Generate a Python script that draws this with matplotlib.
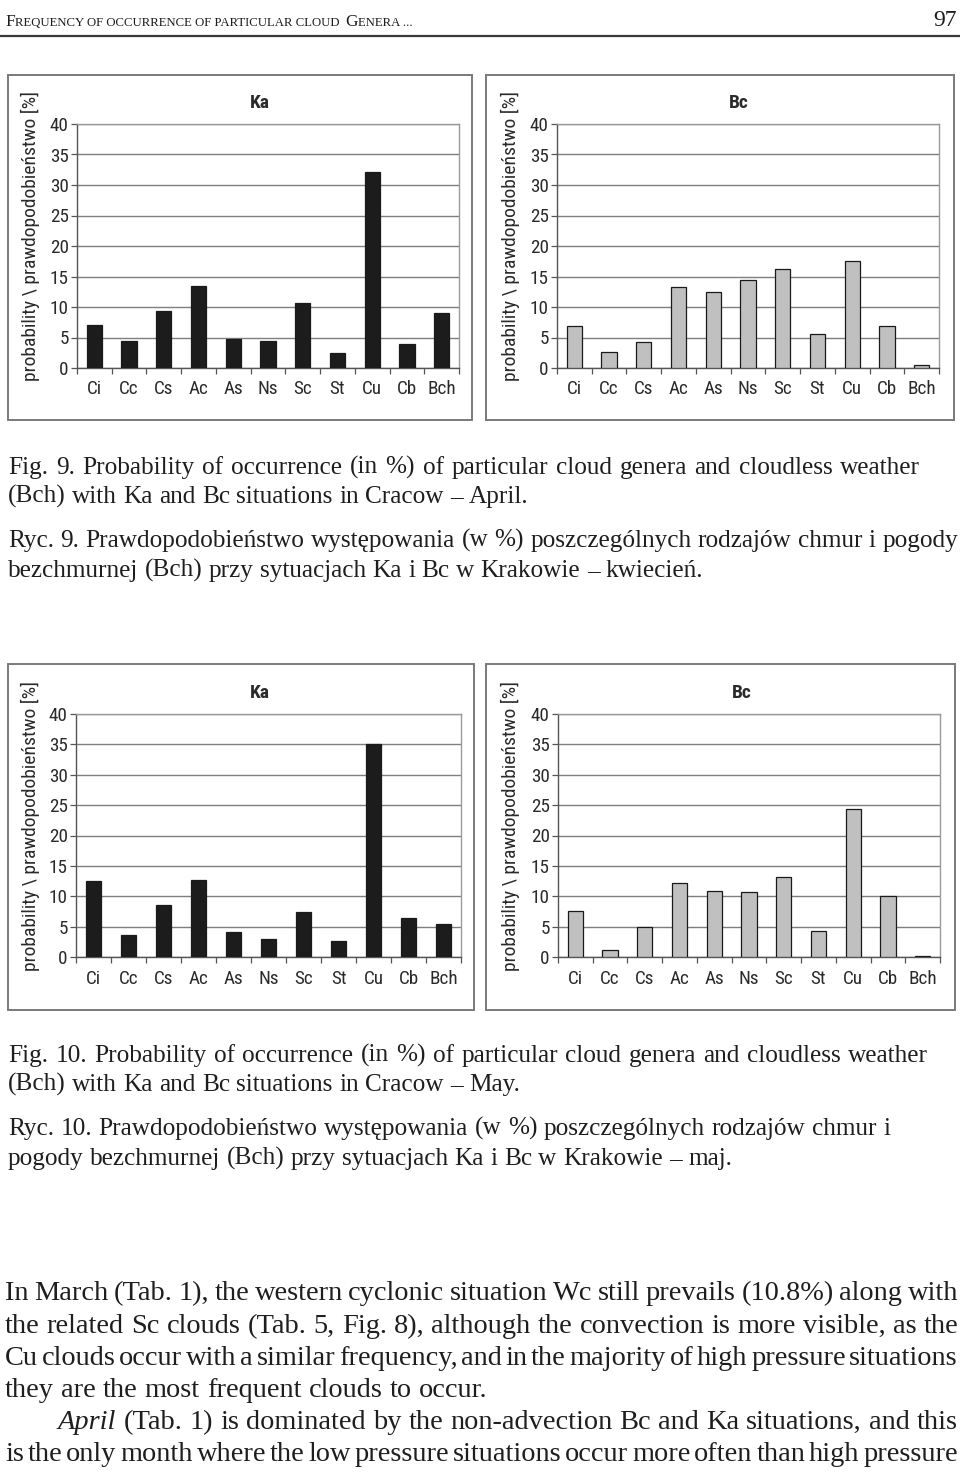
import matplotlib
matplotlib.use('Agg')
import matplotlib.pyplot as plt
from matplotlib import font_manager
from matplotlib.patches import Rectangle
from matplotlib.lines import Line2D
from matplotlib.text import Annotation
import numpy as np

# ---------------- data ----------------
cats = ['Ci', 'Cc', 'Cs', 'Ac', 'As', 'Ns', 'Sc', 'St', 'Cu', 'Cb', 'Bch']
april_ka = [7.0, 4.4, 9.3, 13.4, 4.7, 4.4, 10.6, 2.5, 32.2, 3.9, 9.0]
april_bc = [6.9, 2.6, 4.3, 13.2, 12.4, 14.5, 16.2, 5.6, 17.5, 6.9, 0.5]
may_ka = [12.5, 3.7, 8.5, 12.7, 4.1, 2.9, 7.4, 2.6, 35.1, 6.4, 5.4]
may_bc = [7.6, 1.2, 5.0, 12.2, 10.9, 10.7, 13.2, 4.3, 24.4, 10.0, 0.2]
yticks = [0, 5, 10, 15, 20, 25, 30, 35, 40]
ylabel = 'probability \\ prawdopodobieństwo [%]'

header_pieces = [('F', 'big'), ('REQUENCY OF OCCURRENCE OF PARTICULAR CLOUD', 'small'),
                 ('G', 'big'), ('ENERA ...', 'small')]
page_no = '97'
cap9 = ['Fig. 9. Probability of occurrence (in %) of particular cloud genera and cloudless weather',
        '(Bch) with Ka and Bc situations in Cracow – April.']
ryc9 = ['Ryc. 9. Prawdopodobieństwo występowania (w %) poszczególnych rodzajów chmur i pogody',
        'bezchmurnej (Bch) przy sytuacjach Ka i Bc w Krakowie – kwiecień.']
cap10 = ['Fig. 10. Probability of occurrence (in %) of particular cloud genera and cloudless weather',
         '(Bch) with Ka and Bc situations in Cracow – May.']
ryc10 = ['Ryc. 10. Prawdopodobieństwo występowania (w %) poszczególnych rodzajów chmur i',
         'pogody bezchmurnej (Bch) przy sytuacjach Ka i Bc w Krakowie – maj.']
body = [
    ('In March (Tab. 1), the western cyclonic situation Wc still prevails (10.8%) along with', 958, 0),
    ('the related Sc clouds (Tab. 5, Fig. 8), although the convection is more visible, as the', 958, 0),
    ('Cu clouds occur with a similar frequency, and in the majority of high pressure situations', 958, 0),
    ('they are the most frequent clouds to occur.', None, 0),
    ('*April* (Tab. 1) is dominated by the non-advection Bc and Ka situations, and this', 958, 1),
    ('is the only month where the low pressure situations occur more often than high pressure', 958, 0),
]

# ---------------- setup ----------------
W, H = 960, 1473
fig = plt.figure(figsize=(W / 100, H / 100), dpi=100)
fig.patch.set_facecolor('white')
renderer = fig.canvas.get_renderer()


def stretch_num(s):
    if isinstance(s, (int, float)):
        return s
    return font_manager.stretch_dict.get(s, 500)


ttf = font_manager.fontManager.ttflist
names = {f.name for f in ttf}
SANS, STRETCH, NARROW = 'Liberation Sans', 'normal', False
for cand in ['Liberation Sans Narrow', 'Arial Narrow', 'Roboto Condensed',
             'Open Sans Condensed', 'Noto Sans Condensed', 'DejaVu Sans Condensed']:
    if cand in names:
        SANS, NARROW = cand, True
        break
if not NARROW:
    for fam in ['Liberation Sans', 'Noto Sans', 'Open Sans', 'Roboto', 'DejaVu Sans']:
        hits = [f for f in ttf if f.name == fam and stretch_num(f.stretch) <= 400
                and f.style == 'normal']
        if hits:
            SANS, STRETCH, NARROW = fam, 'condensed', True
            break
SERIF = 'Liberation Serif'
plt.rcParams['font.family'] = [SANS, 'DejaVu Sans']
plt.rcParams['font.stretch'] = STRETCH

TXT = '#1e1e1e'
CH = '#2a2a2a'


def fx(x):
    return x / W


def fy(y):
    return 1 - y / H


def width_of(s, size, style='normal', family=SERIF):
    t = fig.text(0, 0, s, fontsize=size, family=family, style=style)
    w = t.get_window_extent(renderer).width
    t.remove()
    return w


# ---------------- charts ----------------
tick_fs = 13.8 if NARROW else 13
lab_fs = 14 if NARROW else 12.3


def chart(frame, axbox, title, title_xy, ylab_xy, values, color):
    l, t, r, b = frame
    fig.add_artist(Rectangle((fx(l), fy(b)), (r - l) / W, (b - t) / H,
                             transform=fig.transFigure, fill=False,
                             edgecolor='#7a7a7a', lw=1.4))
    al, at, ar, ab = axbox
    ax = fig.add_axes([fx(al), fy(ab), (ar - al) / W, (ab - at) / H])
    x = np.arange(len(cats))
    ax.bar(x, values, width=0.44, color=color, edgecolor='#1a1a1a', lw=0.9, zorder=3)
    ax.set_xlim(-0.5, len(cats) - 0.5)
    ax.set_ylim(0, 40)
    ax.set_yticks(yticks)
    ax.set_yticklabels([str(v) for v in yticks])
    ax.set_xticks(x)
    ax.set_xticklabels(cats)
    ax.set_xticks(np.arange(-0.5, len(cats), 1.0), minor=True)
    ax.tick_params(axis='x', which='major', length=0, pad=9, labelsize=tick_fs, labelcolor=CH)
    ax.tick_params(axis='x', which='minor', length=4, width=0.9, color='#555555')
    ax.tick_params(axis='y', length=4, width=0.9, color='#555555', pad=2,
                   labelsize=tick_fs, labelcolor=CH)
    ax.grid(axis='y', color='#7f7f7f', lw=1.0, zorder=0)
    ax.set_axisbelow(True)
    for s in ['top', 'right']:
        ax.spines[s].set_color('#9a9a9a')
        ax.spines[s].set_linewidth(1.0)
    for s in ['left', 'bottom']:
        ax.spines[s].set_color('#555555')
        ax.spines[s].set_linewidth(1.0)
    fig.text(fx(title_xy[0]), fy(title_xy[1]), title, fontsize=14, fontweight='bold',
             ha='center', va='center', color=CH)
    fig.text(fx(ylab_xy[0]), fy(ylab_xy[1]), ylabel, fontsize=lab_fs, rotation=90,
             ha='center', va='center', color=CH)
    return ax


BLACK = '#1c1c1c'
GREY = '#c0c0c0'
chart((8, 75, 472, 420), (77, 124, 459, 368), 'Ka', (260, 103), (30, 236), april_ka, BLACK)
chart((486, 75, 954, 420), (557, 124, 939, 368), 'Bc', (739, 103), (510, 236), april_bc, GREY)
chart((8, 664, 474, 1010), (76, 714, 461, 957), 'Ka', (260, 693), (30, 826), may_ka, BLACK)
chart((486, 664, 955, 1010), (558, 714, 940, 957), 'Bc', (742, 693), (510, 826), may_bc, GREY)

# ---------------- header ----------------
big0, small0 = 17.0, 12.5
tot = 0
for s, kind in header_pieces:
    tot += width_of(s, big0 if kind == 'big' else small0)
tot += 2 * 4
k = 410.0 / tot
big, small = big0 * k, small0 * k
base = fy(26)
prev = fig.text(fx(5), base, header_pieces[0][0], fontsize=big, family=SERIF,
                va='baseline', color=TXT)
for s, kind in header_pieces[1:]:
    gap = 3.5 if kind == 'big' else 0.5
    a = Annotation(s, xy=(1, base), xycoords=(prev, 'figure fraction'),
                   xytext=(gap, 0), textcoords='offset points',
                   fontsize=big if kind == 'big' else small, family=SERIF,
                   va='baseline', ha='left', color=TXT)
    fig.add_artist(a)
    a.draw(renderer)
    prev = a
fig.text(fx(957), base, page_no, fontsize=17, family=SERIF, ha='right', va='baseline', color=TXT)
fig.add_artist(Line2D([0, 1], [fy(36), fy(36)], transform=fig.transFigure, color='#3a3a3a', lw=1.6))


# ---------------- justified text helper ----------------
def split_items(line):
    items = []
    for w_ in line.split(' '):
        if w_.startswith('*') and w_.endswith('*'):
            items.append((w_.strip('*'), 'italic'))
        else:
            items.append((w_, 'normal'))
    return items


def natural_width(line, size, gapfrac=0.8):
    items = split_items(line)
    space = width_of('a b', size) - width_of('ab', size)
    return sum(width_of(s, size, st) for s, st in items) + gapfrac * space * (len(items) - 1)


def put_line(line, y, size, x0, x1):
    items = split_items(line)
    space = width_of('a b', size) - width_of('ab', size)
    widths = [width_of(s, size, st) for s, st in items]
    if x1 is not None and len(items) > 1:
        gap = (x1 - x0 - sum(widths)) / (len(items) - 1)
    else:
        gap = space
    x = x0
    for (s, st), w_ in zip(items, widths):
        fig.text(fx(x), fy(y), s, fontsize=size, family=SERIF, style=st,
                 ha='left', va='baseline', color=TXT)
        x += w_ + gap


# ---------------- captions ----------------
cfs = 16.0 * 950.0 / width_of(ryc9[0], 16.0)
put_line(cap9[0], 474, cfs, 8, 920)
put_line(cap9[1], 503, cfs, 8, None)
put_line(ryc9[0], 547, cfs, 8, 958)
put_line(ryc9[1], 577, cfs, 8, None)
put_line(cap10[0], 1062, cfs, 8, 928)
put_line(cap10[1], 1091, cfs, 8, None)
put_line(ryc10[0], 1135, cfs, 8, 890)
put_line(ryc10[1], 1165, cfs, 8, None)

# ---------------- body text (justified) ----------------
bfs = 16.0 * 488.0 / width_of(body[3][0], 16.0)
for line, x1, ind in body:
    if x1 is not None:
        avail = x1 - (5 + ind * 53)
        nw = natural_width(line, 16.0, gapfrac=0.5)
        bfs = min(bfs, 16.0 * avail / nw)
yb = [1300, 1333, 1365, 1397, 1429, 1461]
for (line, x1, ind), y in zip(body, yb):
    put_line(line, y, bfs, 5 + ind * 53, x1)

fig.savefig('out.png', dpi=100, facecolor='white')
